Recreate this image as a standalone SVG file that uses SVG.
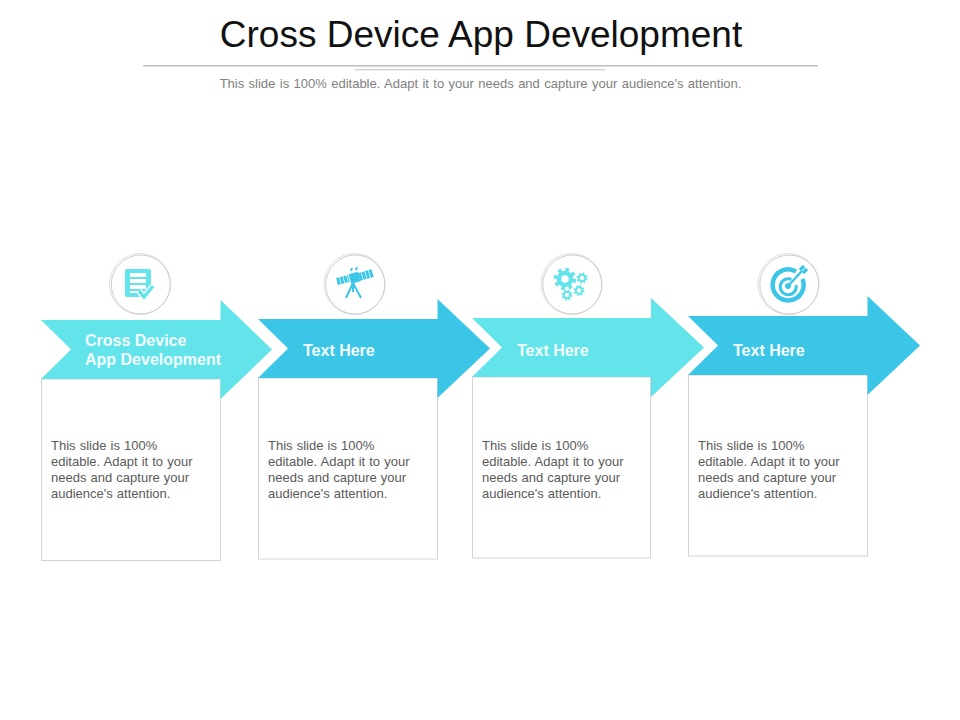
<svg xmlns="http://www.w3.org/2000/svg" width="960" height="720" viewBox="0 0 960 720">
<defs>
<style>
text{font-family:"Liberation Sans",Arial,sans-serif}
.title{font-size:37px;fill:#111;text-anchor:middle}
.sub{font-size:13px;fill:#808080;text-anchor:middle;word-spacing:.8px}
.head{font-size:16px;font-weight:bold;fill:#f2fcfd}
.body{font-size:13px;fill:#5a5a5a;word-spacing:.5px}
.box{fill:#fff;stroke:#d4d4d4;stroke-width:1}
.c1{fill:#62e4ea}
.c2{fill:#3bc6e8}
.ring1{fill:#fff;stroke:#dedede;stroke-width:1}
.ring2{fill:none;stroke:#d2cccc;stroke-width:1}
.s1{stroke:#62e4ea}
.s2{stroke:#3bc6e8}
</style>
</defs>
<rect width="960" height="720" fill="#fff"/>
<g id="header">
<text class="title" x="481" y="47">Cross Device App Development</text>
<rect x="143" y="65" width="675" height="1.5" fill="#bdbdbd"/>
<rect x="355" y="69" width="250" height="1.5" fill="#d5d5d5"/>
<text class="sub" x="480.500" y="88">This slide is 100% editable. Adapt it to your needs and capture your audience's attention.</text>
</g>
<g id="connectors"></g>
<g id="step1">
<rect class="box" x="41.500" y="379" width="179" height="181.500"/>
<path class="c1" d="M41 320H220.500V300L272 349.500L220.500 399V379H41L71 349.500Z"/>
<text class="head"><tspan x="85" y="345.500">Cross Device</tspan><tspan x="85" y="364.500">App Development</tspan></text>
<text class="body"><tspan x="51" y="449.500">This slide is 100%</tspan><tspan x="51" y="465.500">editable. Adapt it to your</tspan><tspan x="51" y="481.500">needs and capture your</tspan><tspan x="51" y="497.500">audience's attention.</tspan></text>
<circle class="ring1" cx="140" cy="284" r="30.500"/><circle class="ring2" cx="140.800" cy="284.500" r="29.500"/>
<path class="c1" fill-rule="evenodd" d="M127 269H149Q151 269 151 271V287L144 297H127Q125 297 125 295V271Q125 269 127 269ZM130 273V277H146V273ZM130 279V283H146V279ZM130 285V289H146V285ZM130 291V293H138V291Z"/>
<path fill="none" stroke="#fff" stroke-width="6" d="M139 291L144 297L153 286"/>
<path fill="none" class="s1" stroke-width="3.500" d="M139 291L144 297L153 286"/>
</g>
<g id="step2">
<rect class="box" x="258.500" y="378" width="179" height="181"/>
<path class="c2" d="M258 319H437.500V299L490 348.500L437.500 398V378H258L288 348.500Z"/>
<text class="head" x="303" y="355.500">Text Here</text>
<text class="body"><tspan x="268" y="449.500">This slide is 100%</tspan><tspan x="268" y="465.500">editable. Adapt it to your</tspan><tspan x="268" y="481.500">needs and capture your</tspan><tspan x="268" y="497.500">audience's attention.</tspan></text>
<circle class="ring1" cx="354.500" cy="284" r="30.500"/><circle class="ring2" cx="355.300" cy="284.500" r="29.500"/>
<g class="s2" fill="none">
<path stroke-width="7" stroke-dasharray="3 .7" d="M337 281.500L349 278.500"/>
<path stroke-width="10" d="M350 279L359 276.500"/>
<path stroke-width="8" stroke-dasharray="3 .7" d="M359 277L373 273"/>
<path stroke-width="2" d="M353 283L346 298M353 283L361 298M353 283V292M351 271L352 268M356 270L357 267"/>
</g>
</g>
<g id="step3">
<rect class="box" x="472.500" y="377" width="178" height="181"/>
<path class="c1" d="M472 318H651V298L704 347.500L651 397V377H472L502 347.500Z"/>
<text class="head" x="517" y="355.500">Text Here</text>
<text class="body"><tspan x="482" y="449.500">This slide is 100%</tspan><tspan x="482" y="465.500">editable. Adapt it to your</tspan><tspan x="482" y="481.500">needs and capture your</tspan><tspan x="482" y="497.500">audience's attention.</tspan></text>
<circle class="ring1" cx="571.500" cy="284" r="30.500"/><circle class="ring2" cx="572.300" cy="284.500" r="29.500"/>
<g fill="none" class="s1">
<circle cx="565" cy="279" r="6" stroke-width="4.500"/>
<circle cx="565" cy="279" r="9.500" stroke-width="3.500" stroke-dasharray="3.730 3.730"/>
<circle cx="582" cy="278" r="3.200" stroke-width="2"/>
<circle cx="582" cy="278" r="4.800" stroke-width="1.500" stroke-dasharray="1.885 1.885"/>
<circle cx="579" cy="290.500" r="3.200" stroke-width="2"/>
<circle cx="579" cy="290.500" r="4.800" stroke-width="1.500" stroke-dasharray="1.885 1.885"/>
<circle cx="567" cy="295" r="3.200" stroke-width="2"/>
<circle cx="567" cy="295" r="4.800" stroke-width="1.500" stroke-dasharray="1.885 1.885"/>
</g>
</g>
<g id="step4">
<rect class="box" x="688.500" y="375" width="179" height="181"/>
<path class="c2" d="M688 316H867.500V296L920 345.500L867.500 395V375H688L718 345.500Z"/>
<text class="head" x="733" y="355.500">Text Here</text>
<text class="body"><tspan x="698" y="449.500">This slide is 100%</tspan><tspan x="698" y="465.500">editable. Adapt it to your</tspan><tspan x="698" y="481.500">needs and capture your</tspan><tspan x="698" y="497.500">audience's attention.</tspan></text>
<circle class="ring1" cx="788.500" cy="284" r="30.500"/><circle class="ring2" cx="789.300" cy="284.500" r="29.500"/>
<g fill="none" class="s2">
<path stroke-width="4.500" d="M796 271.500A15.500 15.500 0 1 0 802.500 279"/>
<path stroke-width="3" d="M791.500 279.500A8 8 0 1 0 796 285"/>
<circle cx="788" cy="286" r="3" fill="#3bc6e8" stroke="none"/>
<path stroke-width="2.500" d="M788 286L802 271"/>
<path stroke-width="3.500" d="M800 270L804 266M803 273L807 269"/>
</g>
</g>
</svg>
